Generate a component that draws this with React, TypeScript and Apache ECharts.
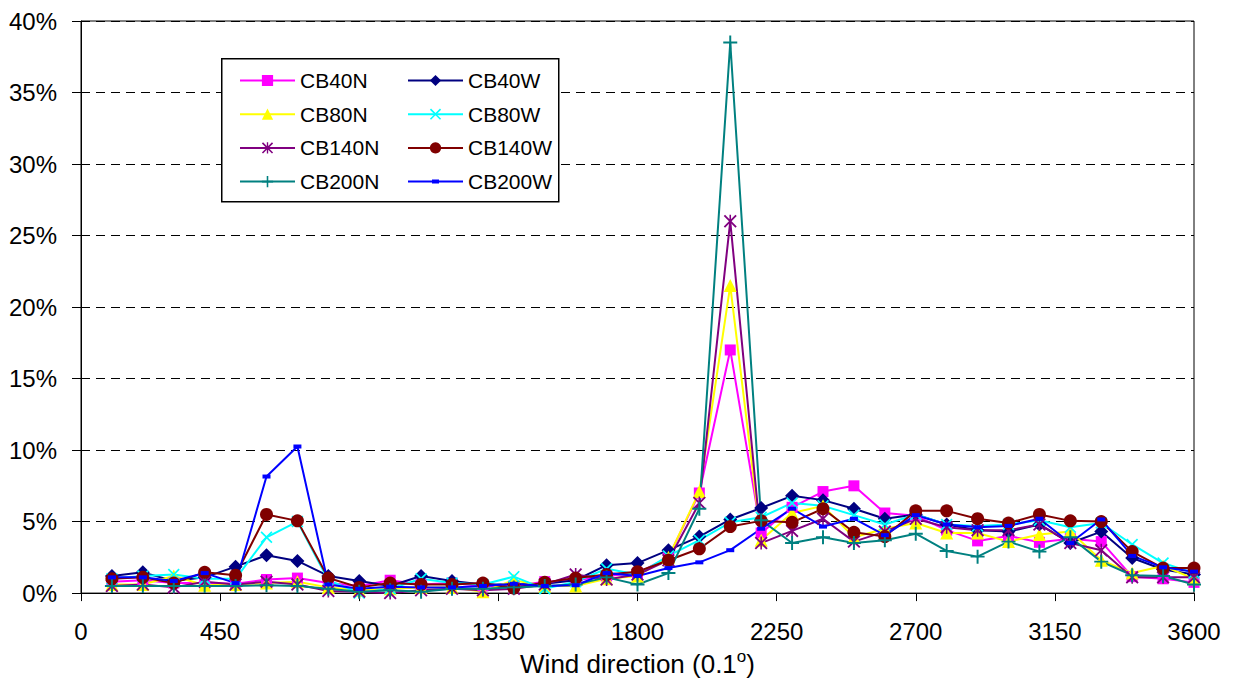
import { useEffect, useRef } from 'react';
import * as echarts from 'echarts';

const directions = [100, 200, 300, 400, 500, 600, 700, 800, 900, 1000, 1100, 1200, 1300, 1400, 1500, 1600, 1700, 1800, 1900, 2000, 2100, 2200, 2300, 2400, 2500, 2600, 2700, 2800, 2900, 3000, 3100, 3200, 3300, 3400, 3500, 3600];

const cb40n = [0.8, 0.9, 0.7, 0.7, 0.65, 0.95, 1.05, 0.7, 0.5, 0.9, 0.6, 0.7, 0.5, 0.5, 0.8, 0.9, 1.2, 1.4, 2.5, 7.0, 17.0, 4.2, 6.0, 7.1, 7.5, 5.6, 5.4, 4.4, 3.65, 4.0, 3.55, 3.8, 3.6, 1.15, 1.0, 0.75];
const cb40w = [1.2, 1.45, 0.85, 1.1, 1.85, 2.65, 2.25, 1.2, 0.85, 0.5, 1.2, 0.85, 0.6, 0.6, 0.65, 0.9, 1.95, 2.1, 3.0, 3.95, 5.15, 5.95, 6.8, 6.5, 5.9, 5.2, 5.5, 4.8, 4.4, 4.3, 4.8, 3.5, 4.3, 2.45, 1.65, 1.3];
const cb80n = [0.6, 0.6, 1.2, 0.55, 0.6, 0.7, 0.8, 0.4, 0.2, 0.3, 0.4, 0.4, 0.1, 0.9, 0.5, 0.5, 1.0, 1.2, 2.5, 7.1, 21.5, 3.7, 5.6, 6.1, 3.9, 4.5, 4.9, 4.2, 4.2, 3.6, 4.1, 4.3, 2.3, 1.4, 1.9, 1.0];
const cb80w = [1.0, 1.2, 1.3, 1.0, 1.0, 3.9, 5.0, 0.9, 0.0, 0.3, 1.0, 0.7, 0.6, 1.15, 0.3, 0.8, 1.7, 1.3, 2.6, 3.7, 4.95, 5.3, 6.3, 6.1, 5.45, 4.8, 5.5, 4.8, 4.7, 4.8, 5.1, 4.6, 4.9, 3.4, 2.1, 1.4];
const cb140n = [0.5, 0.6, 0.4, 0.8, 0.6, 0.8, 0.6, 0.15, 0.1, 0.0, 0.2, 0.3, 0.2, 0.3, 0.6, 1.3, 0.95, 1.3, 2.3, 6.3, 26.0, 3.5, 4.35, 5.2, 3.6, 4.3, 5.2, 4.6, 4.4, 4.4, 4.8, 3.5, 3.0, 1.1, 1.1, 1.1];
const cb140w = [1.0, 1.1, 0.7, 1.45, 1.25, 5.5, 5.05, 1.05, 0.4, 0.7, 0.6, 0.6, 0.7, 0.35, 0.75, 1.05, 1.3, 1.5, 2.3, 3.1, 4.65, 5.05, 4.95, 5.9, 4.25, 3.95, 5.75, 5.75, 5.2, 4.9, 5.5, 5.05, 5.0, 2.9, 1.75, 1.75];
const cb200n = [0.5, 0.5, 0.5, 0.5, 0.5, 0.55, 0.5, 0.3, 0.1, 0.2, 0.1, 0.3, 0.3, 0.4, 0.5, 0.6, 1.1, 0.6, 1.4, 5.9, 38.5, 5.1, 3.5, 3.9, 3.5, 3.7, 4.15, 2.95, 2.55, 3.6, 2.9, 3.9, 2.2, 1.25, 1.2, 0.6];
const cb200w = [1.1, 1.1, 0.85, 1.4, 0.7, 8.15, 10.25, 0.6, 0.3, 0.45, 0.4, 0.4, 0.5, 0.65, 0.5, 0.55, 1.4, 1.2, 1.75, 2.15, 3.0, 4.5, 5.9, 4.65, 5.2, 4.05, 5.45, 4.8, 4.6, 4.7, 5.2, 3.5, 5.15, 2.6, 1.8, 1.5];

const seriesNames = ['CB40N', 'CB40W', 'CB80N', 'CB80W', 'CB140N', 'CB140W', 'CB200N', 'CB200W'];
const seriesValues = [cb40n, cb40w, cb80n, cb80w, cb140n, cb140w, cb200n, cb200w];

const FONT = 'Liberation Sans, Arial, Helvetica, sans-serif';

const X_PATH = 'path://M0,1 L1,0 L5,4 L9,0 L10,1 L6,5 L10,9 L9,10 L5,6 L1,10 L0,9 L4,5 Z';
const STAR_PATH = 'path://M0,1 L1,0 L5,4 L9,0 L10,1 L6,5 L10,9 L9,10 L5,6 L1,10 L0,9 L4,5 Z M4.4,0 L5.6,0 L5.6,10 L4.4,10 Z';
const PLUS_PATH = 'path://M4.3,0 L5.7,0 L5.7,4.3 L10,4.3 L10,5.7 L5.7,5.7 L5.7,10 L4.3,10 L4.3,5.7 L0,5.7 L0,4.3 L4.3,4.3 Z';
const DASH_LEGEND = 'path://M0,6 L55,6 L55,8 L0,8 Z M24,5 L31,5 L31,9 L24,9 Z';

const styles: Record<string, { color: string; symbol: string; size: number | number[] }> = {
  CB40N: { color: '#FF00FF', symbol: 'rect', size: 11 },
  CB40W: { color: '#000080', symbol: 'diamond', size: 14 },
  CB80N: { color: '#FFFF00', symbol: 'triangle', size: 13 },
  CB80W: { color: '#00FFFF', symbol: X_PATH, size: 12 },
  CB140N: { color: '#800080', symbol: STAR_PATH, size: 13 },
  CB140W: { color: '#800000', symbol: 'circle', size: 13 },
  CB200N: { color: '#008080', symbol: PLUS_PATH, size: 14 },
  CB200W: { color: '#0000FF', symbol: 'rect', size: [8, 4] },
};

export default function App() {
  const ref = useRef<HTMLDivElement>(null);
  useEffect(() => {
    document.documentElement.style.margin = '0';
    document.documentElement.style.padding = '0';
    document.documentElement.style.overflow = 'hidden';
    document.body.style.margin = '0';
    document.body.style.padding = '0';
    document.body.style.overflow = 'hidden';
    const chart = echarts.init(ref.current!, null, { renderer: 'svg' });
    const series = seriesNames.map((name, k) => {
      const st = styles[name];
      return {
        name,
        type: 'line',
        data: directions.map((d, i) => [d, seriesValues[k][i]]),
        symbol: st.symbol,
        symbolSize: st.size,
        showSymbol: true,
        lineStyle: { color: st.color, width: 2 },
        itemStyle: { color: st.color },
        emphasis: { disabled: true },
      };
    });
    const legendCommon = {
      orient: 'vertical',
      top: 65,
      itemWidth: 55,
      itemHeight: 14,
      itemGap: 12.7,
      textStyle: { fontSize: 21, color: '#000', fontFamily: FONT },
      selectedMode: false,
    };
    chart.setOption({
      animation: false,
      backgroundColor: '#fff',
      grid: {
        left: 81,
        top: 21,
        width: 1113,
        height: 574,
        show: true,
        borderColor: '#000',
        borderWidth: 1,
        backgroundColor: 'transparent',
      },
      xAxis: {
        type: 'value',
        min: 0,
        max: 3600,
        interval: 450,
        name: '{a|Wind direction (0.1}{sup|o}{a|)}',
        nameLocation: 'middle',
        nameGap: 54,
        nameTextStyle: {
          rich: {
            a: { fontSize: 26, fontFamily: FONT, color: '#000', lineHeight: 32 },
            sup: { fontSize: 17, fontFamily: FONT, color: '#000', lineHeight: 17, verticalAlign: 'top' },
          },
        },
        axisLine: { show: true, lineStyle: { color: '#000', width: 1 } },
        axisTick: { show: true, inside: false, length: 8, lineStyle: { color: '#000' } },
        axisLabel: {
          fontSize: 24,
          color: '#000',
          fontFamily: FONT,
          margin: 26,
          formatter: (v: number) => String(v),
        },
        splitLine: { show: false },
      },
      yAxis: {
        type: 'value',
        min: 0,
        max: 40,
        interval: 5,
        axisLine: { show: true, lineStyle: { color: '#000', width: 1 } },
        axisTick: { show: true, inside: false, length: 9, lineStyle: { color: '#000' } },
        axisLabel: { fontSize: 24, color: '#000', fontFamily: FONT, margin: 24, formatter: '{value}%' },
        splitLine: { show: true, lineStyle: { color: '#000', type: [9, 6], width: 1 } },
      },
      legend: [
        { ...legendCommon, left: 234, data: ['CB40N', 'CB80N', 'CB140N', 'CB200N'] },
        {
          ...legendCommon,
          left: 402,
          data: ['CB40W', 'CB80W', 'CB140W', { name: 'CB200W', icon: DASH_LEGEND }],
        },
      ],
      graphic: [
        {
          type: 'rect',
          left: 221,
          top: 58,
          z: 3,
          shape: { width: 337, height: 143 },
          style: { fill: '#fff', stroke: '#000', lineWidth: 1.5 },
        },
      ],
      series,
    });
    return () => chart.dispose();
  }, []);
  return <div ref={ref} style={{ width: 1236, height: 682, background: '#fff' }} />;
}
